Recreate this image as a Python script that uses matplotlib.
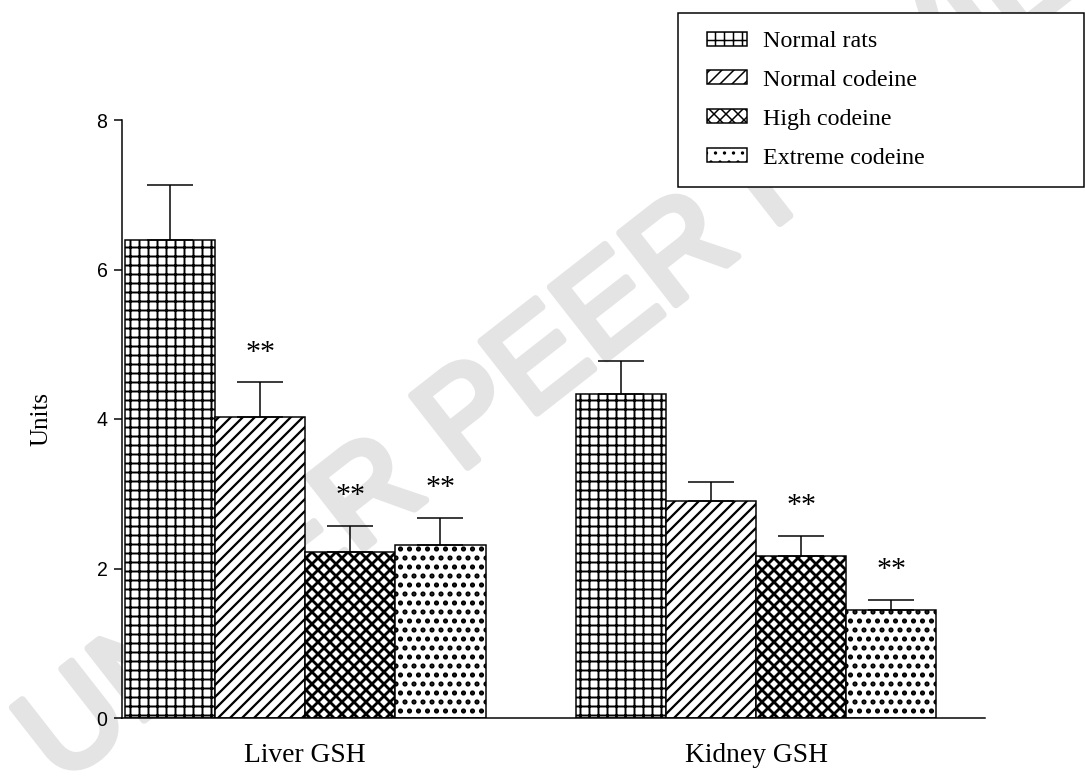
import numpy as np
import matplotlib
matplotlib.use("Agg")
import matplotlib.pyplot as plt
import matplotlib.patheffects as pe
from matplotlib.patches import Rectangle
from matplotlib.container import BarContainer
from matplotlib.legend_handler import HandlerPatch, update_from_first_child

# GSH levels (units) per treatment group, liver first then kidney
groups = ["Liver GSH", "Kidney GSH"]
series = ["Normal rats", "Normal codeine", "High codeine", "Extreme codeine"]

normal_rats = [6.40, 4.33]
normal_codeine = [4.03, 2.90]
high_codeine = [2.22, 2.17]
extreme_codeine = [2.32, 1.44]

normal_rats_err = [0.73, 0.44]
normal_codeine_err = [0.46, 0.26]
high_codeine_err = [0.35, 0.27]
extreme_codeine_err = [0.36, 0.14]

# significance marks vs normal rats
normal_rats_sig = ["", ""]
normal_codeine_sig = ["**", ""]
high_codeine_sig = ["**", "**"]
extreme_codeine_sig = ["**", "**"]

means = [normal_rats, normal_codeine, high_codeine, extreme_codeine]
errs = [normal_rats_err, normal_codeine_err, high_codeine_err, extreme_codeine_err]
sigs = [normal_rats_sig, normal_codeine_sig, high_codeine_sig, extreme_codeine_sig]

hatches = ["++", "///", "xxx", ".."]
hatch_lw = [1.3, 1.5, 1.9, 2.2]

DPI = 108
W, H = 1085, 781

plt.rcParams["font.family"] = "Liberation Sans"
plt.rcParams["hatch.color"] = "black"

fig = plt.figure(figsize=(W / DPI, H / DPI), dpi=DPI)
fig.patch.set_facecolor("white")
ax = fig.add_axes([122 / W, 1 - 718 / H, (985 - 122) / W, (718 - 120) / H])
ax.patch.set_visible(False)

# faint diagonal watermark behind everything
wm_color = "#e4e4e4"
fig.text(600 / W, 1 - 320 / H, "UNDER PEER REVIEW", rotation=38,
         rotation_mode="anchor", ha="center", va="center",
         fontsize=88, color=wm_color, family="Liberation Sans", zorder=-5,
         path_effects=[pe.withStroke(linewidth=5, foreground=wm_color,
                                     capstyle="round", joinstyle="round")])

n_series = len(series)
group_pos = np.arange(len(groups)) * (n_series + 1)

for j in range(n_series):
    x = group_pos + j
    with plt.rc_context({"hatch.linewidth": hatch_lw[j]}):
        b = ax.bar(x, means[j], width=1.0, color="white", edgecolor="black",
                   linewidth=1.0, hatch=hatches[j], label=series[j], zorder=2)
    for p in b:
        if hasattr(p, "set_hatch_linewidth"):
            p.set_hatch_linewidth(hatch_lw[j])
    ax.errorbar(x, means[j], yerr=[np.zeros(len(groups)), errs[j]], fmt="none",
                ecolor="black", elinewidth=1.0, capsize=15.3, capthick=1.0,
                zorder=3)
    for xi, m, e, s in zip(x, means[j], errs[j], sigs[j]):
        if s:
            ax.text(xi, m + e + 0.3, s, ha="center", va="baseline",
                    fontsize=20, family="Liberation Serif", zorder=4)

ax.set_xlim(-0.533, 9.04)
ax.set_ylim(0, 8)
ax.set_yticks([0, 2, 4, 6, 8])
ax.set_xticks(group_pos + (n_series - 1) / 2)
ax.set_xticklabels(groups, family="Liberation Serif", fontsize=18.3)
ax.tick_params(axis="x", length=0, pad=16.4)
ax.tick_params(axis="y", direction="out", length=5.3, width=1.0,
               labelsize=13, pad=4.4)

for side in ["top", "right"]:
    ax.spines[side].set_visible(False)
for side in ["left", "bottom"]:
    ax.spines[side].set_linewidth(1.0)

ax.set_ylabel("Units", family="Liberation Serif", fontsize=16.7)
ax.yaxis.set_label_coords(-0.081, 0.5)


def shifted_patch(legend, orig_handle, xdescent, ydescent, width, height, fontsize):
    # leave a small gap on the left of each legend swatch
    shift = 7.3
    return Rectangle((-xdescent + shift, -ydescent), width - shift, height)


leg = ax.legend(loc="upper left",
                bbox_to_anchor=(678 / W, 1 - 181 / H, (1084 - 678) / W, (181 - 13) / H),
                bbox_transform=fig.transFigure, mode="expand",
                fancybox=False, framealpha=1, edgecolor="black",
                prop={"family": "Liberation Serif", "size": 16},
                handlelength=2.1, handleheight=0.52, handletextpad=0.7,
                labelspacing=0.74, borderpad=0.76, borderaxespad=0,
                handler_map={BarContainer: HandlerPatch(
                    patch_func=shifted_patch, update_func=update_from_first_child)})
leg.get_frame().set_linewidth(1.0)

fig.savefig("out.png", dpi=DPI)
